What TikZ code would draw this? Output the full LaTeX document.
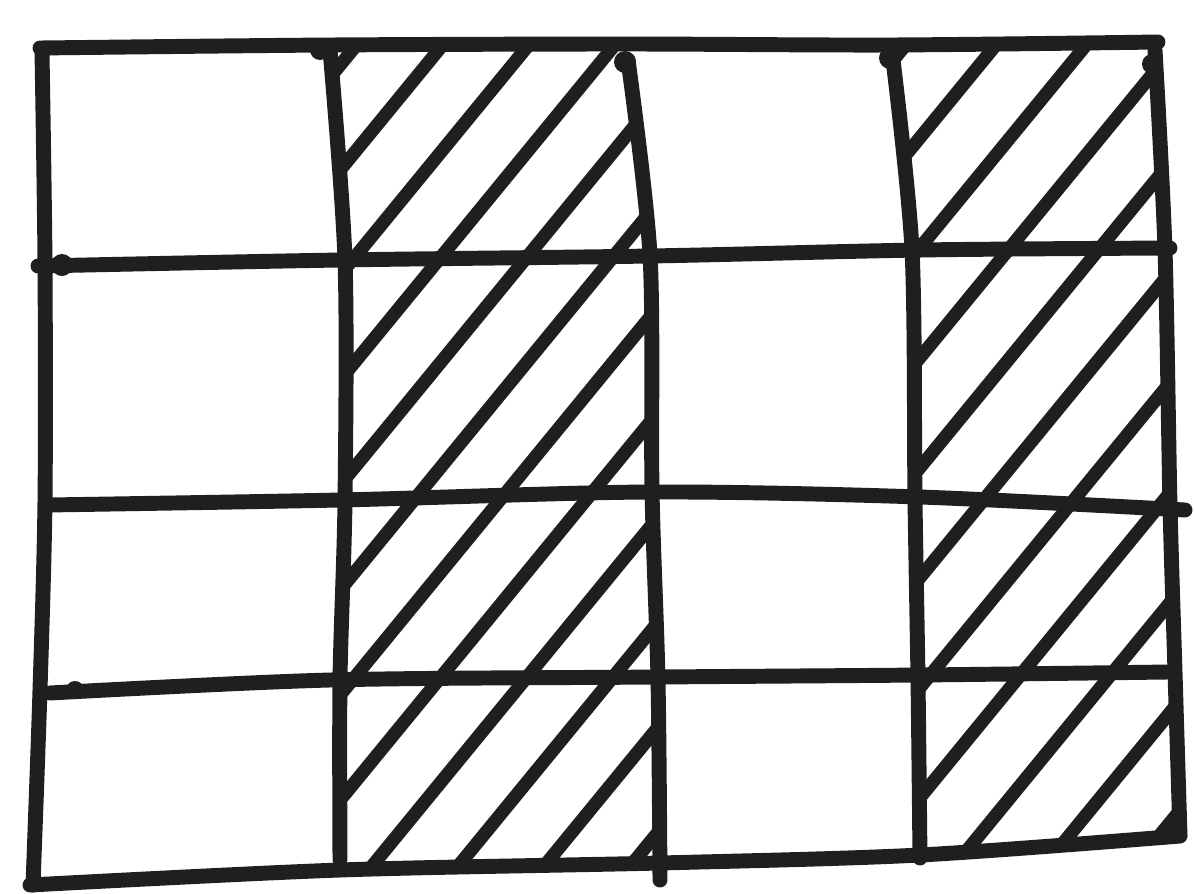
\documentclass[tikz,border=0pt]{standalone}
\begin{document}
\begin{tikzpicture}[x=0.02cm,y=-0.02cm,
  gridline/.style={line width=8.5pt,line cap=round,line join=round,black!88},
  hatchline/.style={line width=7.5pt,line cap=round,black!88},
  blob/.style={fill=black!88,draw=none}]
\useasboundingbox (0,0) rectangle (1194,893);
% hatching, column 2
\begin{scope}
\clip (335,45) -- (625,45) -- (650,255) -- (652,490) -- (658,680) -- (660,862) -- (340,870) -- (340,680) -- (345,500) -- (345,260) -- cycle;
\foreach \c in {480,585,690,795,900,1005,1110,1215,1320,1425,1530,1635,1740}
  \draw[hatchline] (300,{\c-1.22*300}) -- (720,{\c-1.22*720});
\end{scope}
% hatching, column 4
\begin{scope}
\clip (890,45) -- (1155,42) -- (1165,250) -- (1170,505) -- (1175,672) -- (1180,838) -- (920,855) -- (918,680) -- (915,500) -- (912,250) -- cycle;
\foreach \c in {1150,1260,1370,1480,1590,1700,1810,1920,2030,2140,2250}
  \draw[hatchline] (860,{\c-1.22*860}) -- (1200,{\c-1.22*1200});
\end{scope}
% horizontal lines
\draw[gridline] plot[smooth] coordinates {(40,48) (330,45) (625,44) (890,45) (1158,42)};
\draw[gridline] plot[smooth] coordinates {(38,266) (340,260) (650,256) (920,250) (1170,248)};
\draw[gridline] plot[smooth] coordinates {(48,505) (340,500) (650,492) (920,497) (1185,510)};
\draw[gridline] plot[smooth] coordinates {(50,693) (330,680) (660,677) (920,675) (1168,672)};
\draw[gridline] plot[smooth] coordinates {(30,885) (340,870) (660,863) (920,855) (1180,836)};
% vertical lines
\draw[gridline] plot[smooth] coordinates {(42,52) (45,265) (45,500) (40,690) (33,885)};
\draw[gridline] plot[smooth] coordinates {(330,50) (345,260) (345,500) (340,680) (340,860)};
\draw[gridline] plot[smooth] coordinates {(628,60) (650,255) (652,490) (658,680) (660,880)};
\draw[gridline] plot[smooth] coordinates {(893,60) (912,250) (915,500) (918,680) (920,858)};
\draw[gridline] plot[smooth] coordinates {(1155,50) (1165,250) (1170,505) (1175,672) (1180,835)};
% pen blobs
\fill[blob] (320,50) circle (10);
\fill[blob] (625,62) circle (11);
\fill[blob] (890,58) circle (11);
\fill[blob] (1152,64) circle (10);
\fill[blob] (62,265) circle (11);
\fill[blob] (75,690) circle (9);
\end{tikzpicture}
\end{document}
